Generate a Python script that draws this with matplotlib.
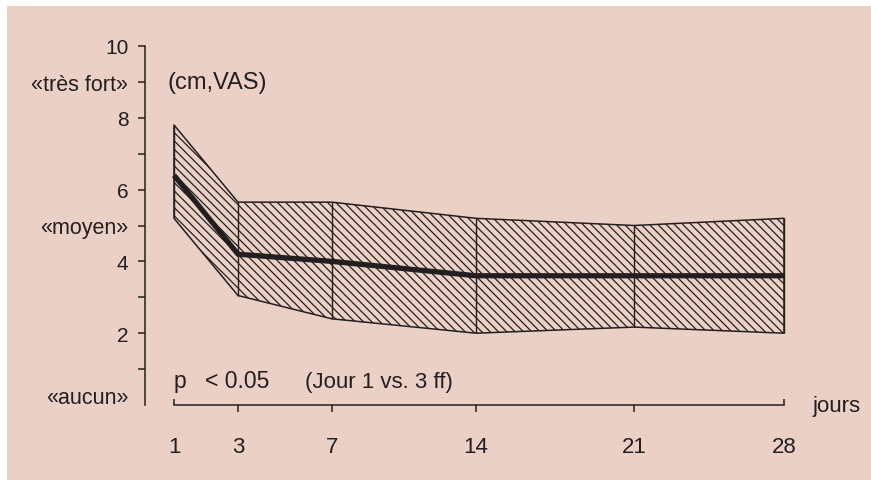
import numpy as np
import matplotlib
matplotlib.use("Agg")
import matplotlib.pyplot as plt
from matplotlib.patches import Rectangle

# données (VAS, cm)
jours = [1, 3, 7, 14, 21, 28]
moyenne = [6.4, 4.2, 4.0, 3.6, 3.6, 3.6]
borne_sup = [7.8, 5.65, 5.65, 5.2, 5.0, 5.2]
borne_inf = [5.2, 3.05, 2.4, 2.0, 2.17, 2.0]

y_ticks = [1, 2, 3, 4, 5, 6, 7, 8, 9, 10]
y_labels = ["", "2", "", "4", "«moyen»", "6", "", "8", "«très fort»", "10"]

# axe des jours non linéaire : position (px) de chaque repère sur la figure d'origine
axe_jours = [1, 3, 7, 14, 21, 28]
axe_px = [174, 238, 332, 476, 634, 784]

W, H = 871, 481
ink = "#231f20"
fond = "#ebd1c5"

plt.rcParams["font.family"] = ["Liberation Sans", "DejaVu Sans"]
plt.rcParams["hatch.linewidth"] = 0.9
plt.rcParams["hatch.color"] = ink


def _lin(x, xs, ys):
    x = np.asarray(x, dtype=float)
    y = np.interp(x, xs, ys)
    s0 = (ys[1] - ys[0]) / (xs[1] - xs[0])
    s1 = (ys[-1] - ys[-2]) / (xs[-1] - xs[-2])
    y = np.where(x < xs[0], ys[0] + (x - xs[0]) * s0, y)
    y = np.where(x > xs[-1], ys[-1] + (x - xs[-1]) * s1, y)
    return y


def fwd(x):
    return _lin(x, axe_jours, axe_px)


def inv(p):
    return _lin(p, axe_px, axe_jours)


fig = plt.figure(figsize=(W / 100, H / 100), dpi=100)
fig.patch.set_facecolor("white")
fig.add_artist(Rectangle((7 / W, 0), 1 - 7 / W, 1 - 7 / H, transform=fig.transFigure,
                         facecolor=fond, edgecolor="none", zorder=0))

x_left, x_right = 145, 784
y_bot, y_top = 406, 47
ax = fig.add_axes([x_left / W, 1 - y_bot / H, (x_right - x_left) / W, (y_bot - y_top) / H])
ax.set_facecolor("none")
ax.set_xscale("function", functions=(fwd, inv))
ax.set_xlim(float(inv(x_left)), 28)
ax.set_ylim(0, 10)

# bande hachurée
ax.fill_between(jours, borne_inf, borne_sup, facecolor="none", edgecolor=ink,
                hatch="\\\\\\\\", linewidth=1.1, clip_on=False, zorder=2)
ax.vlines(jours, borne_inf, borne_sup, color=ink, linewidth=1.0, clip_on=False, zorder=2)
ax.plot(jours, moyenne, color=ink, linewidth=3.8, solid_capstyle="butt",
        clip_on=False, zorder=3)

# axes
for s in ["top", "right"]:
    ax.spines[s].set_visible(False)
ax.spines["left"].set_bounds(0, 10)
ax.spines["bottom"].set_bounds(1, 28)
for s in ["left", "bottom"]:
    ax.spines[s].set_color(ink)
    ax.spines[s].set_linewidth(1.1)

ax.set_yticks(y_ticks)
ax.set_yticklabels(y_labels)
ax.tick_params(axis="y", direction="out", length=5, width=1.1, pad=7,
               color=ink, labelcolor=ink, labelsize=15)
for lab in ax.get_yticklabels():
    if "«" in lab.get_text():
        lab.set_fontsize(15.5)

ax.set_xticks([3, 7, 14, 21])
ax.set_xticklabels(["3", "7", "14", "21"])
ax.set_xticks([1, 28], minor=True)
ax.set_xticklabels(["1", "28"], minor=True)
ax.tick_params(axis="x", which="major", direction="out", length=5, width=1.1, pad=17,
               color=ink, labelcolor=ink, labelsize=16)
ax.tick_params(axis="x", which="minor", direction="in", length=4, width=1.1, pad=22,
               color=ink, labelcolor=ink, labelsize=16)


def ftext(px, py, s, **kw):
    fig.text(px / W, 1 - py / H, s, color=ink, **kw)


ftext(128, 398, "«aucun»", ha="right", va="center", fontsize=15.5)
ftext(167, 83, "(cm,VAS)", ha="left", va="center", fontsize=17)
ftext(812, 407, "jours", ha="left", va="center", fontsize=16)
ftext(174, 388, "p", ha="left", va="baseline", fontsize=16.5)
ftext(205, 388, "< 0.05", ha="left", va="baseline", fontsize=16.5)
ftext(305, 388, "(Jour 1 vs. 3 ff)", ha="left", va="baseline", fontsize=16)

fig.savefig("out.png", dpi=100, facecolor=fig.get_facecolor())
